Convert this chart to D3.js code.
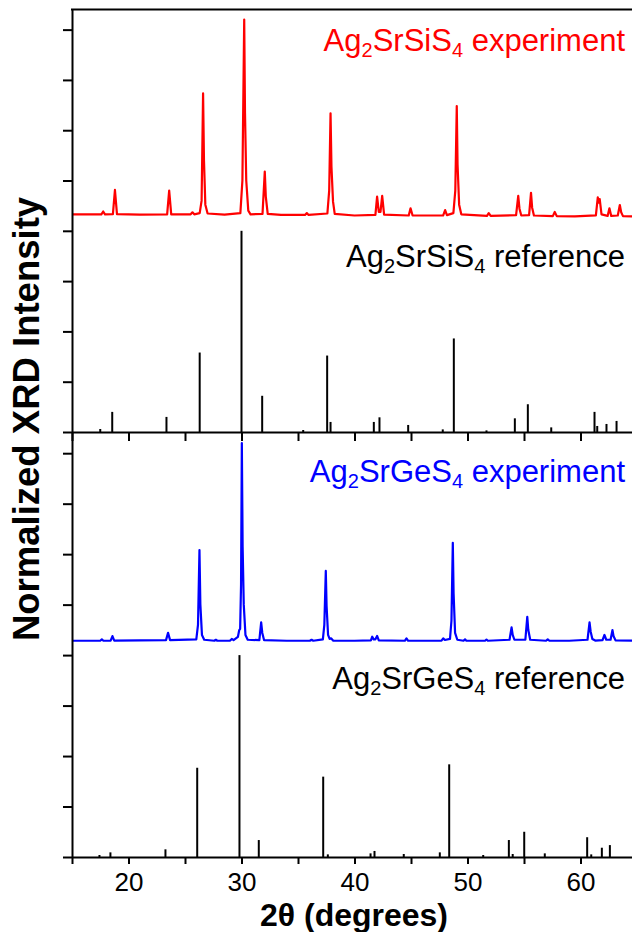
<!DOCTYPE html>
<html>
<head>
<meta charset="utf-8">
<script src="https://cdn.jsdelivr.net/npm/d3@7"></script>
<style>
  body { margin: 0; background: #fff; }
  text { font-family: "Liberation Sans", Arial, Helvetica, sans-serif; }
</style>
</head>
<body>
<div id="chart"></div>
<script>
// axis ticks
var xTicks = [15, 20, 25, 30, 35, 40, 45, 50, 55, 60, 65];
var xLabels = [20, 30, 40, 50, 60];
var yTicks = [0, 1, 2, 3, 4, 5, 6, 7, 8];

// Ag2SrSiS4 reference sticks (2theta, relative intensity %)
var siRefPos = [17.5, 18.56, 23.36, 26.3, 30.0, 31.83, 35.46, 37.58, 37.88, 41.71, 42.21, 44.75, 47.81, 48.79, 51.68, 54.19, 55.34, 57.41, 61.24, 61.48, 62.3, 63.19];
var siRefInt = [1.5, 10, 7.5, 39.5, 100, 18, 1, 38, 5, 5, 7.3, 3.5, 1.3, 46.5, 0.8, 6.8, 13.8, 2.3, 10, 3, 4, 5.5];

// Ag2SrGeS4 reference sticks
var geRefPos = [17.43, 18.4, 23.27, 26.08, 29.82, 31.53, 37.23, 37.64, 41.42, 41.77, 44.36, 47.55, 48.38, 51.39, 53.66, 54.0, 55.02, 56.84, 60.59, 60.95, 61.89, 62.6];
var geRefInt = [1.0, 2.3, 3.8, 44.2, 100, 8.4, 39.8, 1.3, 1.8, 3.0, 1.5, 2.3, 45.9, 1.0, 8.4, 1.5, 12.5, 1.8, 9.8, 1.3, 4.6, 5.9];

// Ag2SrSiS4 experiment pattern (2theta, normalized intensity %)
var siExp = [
  [15.0, 3.2], [17.6, 3.2], [17.76, 4.6], [17.92, 3.2],
  [18.62, 3.3], [18.8, 15.3], [18.98, 3.3],
  [21.0, 3.0],
  [23.42, 3.2], [23.6, 15.0], [23.78, 3.2],
  [25.5, 3.2], [25.66, 4.2], [25.82, 3.2],
  [26.3, 3.8], [26.47, 10], [26.6, 63.3], [26.68, 30], [26.8, 8], [27.0, 3.6],
  [28.5, 3.0],
  [29.9, 3.8], [30.08, 20], [30.24, 100], [30.31, 53.5], [30.42, 20], [30.6, 5], [30.8, 3.2],
  [31.86, 3.4], [32.06, 24.4], [32.15, 12], [32.32, 3.4],
  [33.5, 2.9],
  [35.62, 2.9], [35.78, 3.8], [35.94, 2.9],
  [37.6, 3.6], [37.76, 15], [37.88, 53.4], [37.96, 26.9], [38.1, 9.5], [38.25, 3.4],
  [40.0, 2.6],
  [41.85, 2.9], [42.0, 12.0], [42.15, 4.4], [42.3, 4.4], [42.45, 12.4], [42.62, 3.0],
  [44.8, 2.6], [44.96, 6.2], [45.14, 2.6],
  [47.84, 2.6], [48.02, 5.3], [48.18, 2.8],
  [48.75, 3.8], [48.92, 15], [49.05, 57.0], [49.12, 28.0], [49.26, 8], [49.45, 3.2],
  [51.72, 2.4], [51.88, 3.8], [52.05, 2.4],
  [54.3, 2.8], [54.49, 12.4], [54.6, 6], [54.76, 2.6],
  [55.45, 2.8], [55.62, 13.9], [55.72, 6.5], [55.88, 2.6],
  [57.55, 2.3], [57.72, 4.4], [57.9, 2.3],
  [59.5, 2.2],
  [61.36, 2.7], [61.53, 11.6], [61.62, 9], [61.7, 10.8], [61.86, 3.2],
  [62.4, 2.4], [62.56, 6.2], [62.72, 2.4],
  [63.3, 2.6], [63.48, 7.8], [63.6, 4.2], [63.76, 2.3],
  [65.0, 2.1]
];

// Ag2SrGeS4 experiment pattern
var geExp = [
  [15.0, 2.1], [17.5, 2.1], [17.64, 2.8], [17.78, 2.1],
  [18.42, 2.2], [18.58, 4.4], [18.74, 2.2],
  [23.32, 2.4], [23.5, 6.0], [23.68, 2.4],
  [26.0, 2.8], [26.15, 10], [26.28, 47.0], [26.36, 20], [26.5, 5], [26.7, 2.6],
  [27.6, 2.1], [27.73, 2.6], [27.86, 2.1],
  [29.0, 2.2], [29.14, 3.0], [29.3, 2.4],
  [29.68, 4], [29.8, 7.4], [29.88, 8], [29.96, 30], [30.03, 100], [30.1, 48.6], [30.2, 20], [30.35, 5], [30.55, 2.6],
  [31.58, 2.4], [31.74, 11.2], [31.84, 6], [32.0, 2.4],
  [34.0, 2.1],
  [36.05, 2.1], [36.2, 2.6], [36.35, 2.1],
  [37.2, 2.8], [37.33, 10], [37.46, 36.7], [37.53, 19.3], [37.66, 5], [37.8, 3.0], [37.94, 3.3], [38.1, 2.2],
  [40.0, 2.1],
  [41.45, 2.3], [41.57, 4.1], [41.7, 2.8], [41.85, 2.8], [42.0, 4.5], [42.15, 2.3],
  [44.45, 2.1], [44.6, 3.3], [44.75, 2.1],
  [47.7, 2.2], [47.85, 3.3], [48.0, 2.5],
  [48.45, 3.0], [48.58, 12], [48.7, 50.6], [48.77, 25.5], [48.9, 6], [49.1, 2.6],
  [49.65, 2.1], [49.78, 2.8], [49.9, 2.1],
  [51.55, 2.1], [51.68, 2.7], [51.8, 2.1],
  [53.72, 2.6], [53.9, 8.7], [54.0, 5], [54.15, 2.6],
  [55.12, 2.6], [55.29, 14.0], [55.38, 7.4], [55.55, 2.6],
  [56.95, 2.1], [57.1, 2.8], [57.25, 2.1],
  [59.0, 2.1],
  [60.62, 2.6], [60.8, 11.2], [60.9, 6.6], [61.05, 3.0], [61.3, 2.2],
  [61.95, 2.4], [62.12, 5.0], [62.28, 2.6],
  [62.66, 2.6], [62.83, 7.4], [62.92, 4.5], [63.1, 2.3],
  [65.0, 2.1]
];

var W = 632, H = 932;
var expOffset = 4.2;   // experiment curves sit 4.2 tick units above the sticks
var perUnit = 25;      // 100 % = 4 tick units

var svg = d3.select("#chart").append("svg")
  .attr("width", W)
  .attr("height", H)
  .style("background", "#fff");

var x = d3.scaleLinear().domain([15, 65]).range([72, 637]);

var panels = [
  { y: d3.scaleLinear().domain([0, 8.41]).range([432, 9]),
    refPos: siRefPos, refInt: siRefInt, exp: siExp, color: "#ff0000",
    name: "SrSiS", expY: 51, refY: 267 },
  { y: d3.scaleLinear().domain([0, 8.42]).range([857, 432]),
    refPos: geRefPos, refInt: geRefInt, exp: geExp, color: "#0000ff",
    name: "SrGeS", expY: 482, refY: 689 }
];

function label(txt, y, color, tail) {
  var t = svg.append("text")
    .attr("x", 625).attr("y", y)
    .attr("text-anchor", "end")
    .attr("fill", color)
    .style("font-size", "31px");
  t.append("tspan").text("Ag");
  t.append("tspan").text("2").attr("dy", 6).style("font-size", "20px");
  t.append("tspan").text(txt).attr("dy", -6);
  t.append("tspan").text("4").attr("dy", 6).style("font-size", "20px");
  t.append("tspan").text(tail).attr("dy", -6);
}

panels.forEach(function (p) {
  // reference sticks
  svg.append("g").selectAll("line")
    .data(p.refPos)
    .enter().append("line")
    .attr("x1", function (d) { return x(d); })
    .attr("x2", function (d) { return x(d); })
    .attr("y1", p.y(0))
    .attr("y2", function (d, i) { return p.y(p.refInt[i] / perUnit); })
    .attr("stroke", "#000")
    .attr("stroke-width", 2);

  // experimental pattern
  var line = d3.line()
    .x(function (d) { return x(d[0]); })
    .y(function (d) { return p.y(expOffset + d[1] / perUnit); });

  svg.append("path")
    .datum(p.exp)
    .attr("d", line)
    .attr("fill", "none")
    .attr("stroke", p.color)
    .attr("stroke-width", 2.2)
    .attr("stroke-linejoin", "round");

  // left axis
  svg.append("g")
    .attr("class", "axis")
    .attr("transform", "translate(72,0)")
    .call(d3.axisLeft(p.y).tickValues(yTicks).tickSize(9).tickSizeOuter(0).tickFormat(""));

  label(p.name, p.expY, p.color, " experiment");
  label(p.name, p.refY, "#000", " reference");
});

// middle x axis (no labels)
svg.append("g")
  .attr("class", "axis")
  .attr("transform", "translate(0,432)")
  .call(d3.axisBottom(x).tickValues(xTicks).tickSize(9).tickSizeOuter(0).tickFormat(""));

// bottom x axis
svg.append("g")
  .attr("class", "axis xb")
  .attr("transform", "translate(0,857)")
  .call(d3.axisBottom(x).tickValues(xTicks).tickSize(7).tickSizeOuter(0).tickPadding(9)
    .tickFormat(function (d) { return xLabels.indexOf(d) >= 0 ? d : ""; }));

// top frame line
svg.append("line")
  .attr("x1", 71).attr("x2", x(65))
  .attr("y1", 9.5).attr("y2", 9.5)
  .attr("stroke", "#000").attr("stroke-width", 2);

svg.selectAll(".axis path, .axis line")
  .attr("stroke", "#000")
  .attr("stroke-width", 2);
svg.selectAll(".axis text")
  .attr("fill", "#000")
  .style("font-size", "26px")
  .style("font-family", "'Liberation Sans', Arial, sans-serif");

// axis titles
svg.append("text")
  .attr("x", 354).attr("y", 926)
  .attr("text-anchor", "middle")
  .style("font-size", "32px")
  .style("font-weight", "bold")
  .text("2θ (degrees)");

svg.append("text")
  .attr("transform", "translate(39,419) rotate(-90)")
  .attr("text-anchor", "middle")
  .style("font-size", "36.5px")
  .style("font-weight", "bold")
  .text("Normalized XRD Intensity");
</script>
</body>
</html>
